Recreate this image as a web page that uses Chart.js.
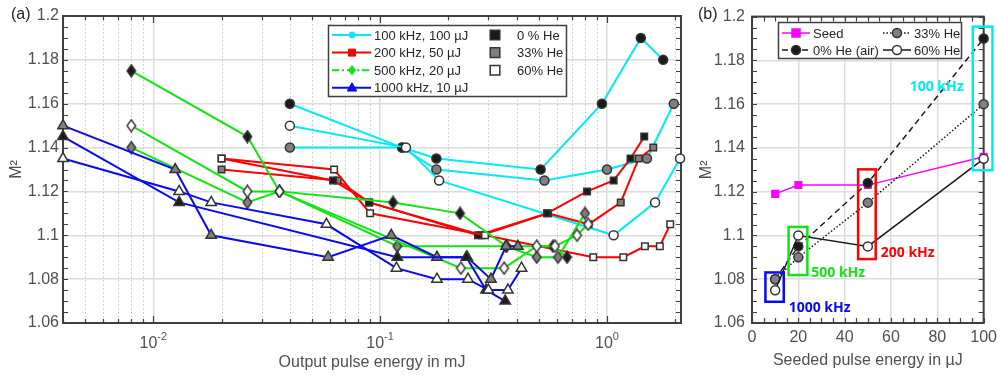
<!DOCTYPE html>
<html>
<head>
<meta charset="utf-8">
<title>M² vs pulse energy</title>
<script src="https://cdn.jsdelivr.net/npm/chart.js@4.4.1/dist/chart.umd.min.js"></script>
<style>
  html, body { margin: 0; padding: 0; background: #fff; overflow: hidden; }
  #wrap { position: relative; width: 998px; height: 375px; }
  #wrap canvas { position: absolute; top: 0; }
  .panel { position: absolute; top: 5px; font: 16px "Liberation Sans", Arial, sans-serif; color: #262626; }
</style>
</head>
<body>
<div id="wrap">
  <canvas id="energyChart" width="690" height="375" style="left:0"></canvas>
  <canvas id="seedChart" width="312" height="375" style="left:690px"></canvas>
  <div class="panel" style="left:11px">(a)</div>
  <div class="panel" style="left:698px">(b)</div>
</div>
<script>
const FONT = '"Liberation Sans", Arial, sans-serif';
const AXIS = '#404040', LABEL = '#505050', TEXT = '#262626', GRID = '#dcdcdc';

/* ---------- (a) M² against output pulse energy (mJ) ---------- */
const rateLabels = ['100 kHz, 100 µJ', '200 kHz, 50 µJ', '500 kHz, 20 µJ', '1000 kHz, 10 µJ'];
const heLabels = ['0 % He', '33% He', '60% He'];

// 100 kHz
const e100He0  = [0.04, 0.125, 0.177, 0.51, 0.95, 1.41, 1.77];
const m100He0  = [1.16, 1.14, 1.135, 1.13, 1.16, 1.19, 1.18];
const e100He33 = [0.04, 0.125, 0.177, 0.53, 1.0, 1.5, 1.97];
const m100He33 = [1.14, 1.14, 1.13, 1.125, 1.13, 1.135, 1.16];
const e100He60 = [0.04, 0.13, 0.182, 1.07, 1.63, 2.1];
const m100He60 = [1.15, 1.14, 1.125, 1.10, 1.115, 1.135];
// 200 kHz
const e200He0  = [0.02, 0.062, 0.0895, 0.27, 0.544, 0.817, 1.07, 1.27, 1.46];
const m200He0  = [1.135, 1.125, 1.115, 1.10, 1.11, 1.12, 1.125, 1.135, 1.145];
const e200He33 = [0.02, 0.065, 0.0895, 0.28, 0.55, 0.83, 1.15, 1.38, 1.6];
const m200He33 = [1.13, 1.125, 1.115, 1.10, 1.11, 1.105, 1.115, 1.135, 1.14];
const e200He60 = [0.02, 0.0627, 0.0903, 0.29, 0.87, 1.18, 1.47, 1.71, 1.90];
const m200He60 = [1.135, 1.13, 1.11, 1.10, 1.09, 1.09, 1.095, 1.095, 1.105];
// 500 kHz
const e500He0  = [0.008, 0.026, 0.036, 0.114, 0.225, 0.36, 0.578, 0.667];
const m500He0  = [1.175, 1.145, 1.12, 1.115, 1.11, 1.095, 1.095, 1.09];
const e500He33 = [0.008, 0.026, 0.036, 0.119, 0.36, 0.49, 0.608, 0.80];
const m500He33 = [1.14, 1.115, 1.12, 1.095, 1.095, 1.09, 1.09, 1.11];
const e500He60 = [0.008, 0.026, 0.036, 0.227, 0.352, 0.49, 0.59, 0.738, 0.826];
const m500He60 = [1.15, 1.12, 1.12, 1.085, 1.085, 1.095, 1.095, 1.10, 1.105];
// 1000 kHz
const e1000He0  = [0.004, 0.013, 0.119, 0.24, 0.293, 0.356];
const m1000He0  = [1.145, 1.115, 1.09, 1.09, 1.075, 1.07];
const e1000He33 = [0.004, 0.0125, 0.018, 0.059, 0.112, 0.178, 0.242, 0.308, 0.359, 0.405];
const m1000He33 = [1.15, 1.13, 1.10, 1.09, 1.10, 1.09, 1.09, 1.08, 1.095, 1.095];
const e1000He60 = [0.004, 0.013, 0.018, 0.058, 0.118, 0.178, 0.244, 0.30, 0.366, 0.42];
const m1000He60 = [1.135, 1.12, 1.115, 1.105, 1.085, 1.08, 1.08, 1.075, 1.075, 1.085];

const decades = [0.01, 0.1, 1];

/* ---------- (b) M² against seeded pulse energy (µJ) ---------- */
const seedEnergy = [10, 20, 50, 100];
const seedM2 = [1.119, 1.123, 1.123, 1.136];
const airM2  = [1.08, 1.095, 1.124, 1.19];
const he33M2 = [1.08, 1.09, 1.115, 1.16];
const he60M2 = [1.075, 1.10, 1.095, 1.135];
const seriesLabelsB = ['Seed', '0% He (air)', '33% He', '60% He'];
const bandLabels = ['1000 kHz', '500 kHz', '200 kHz', '100 kHz'];

// styling
const rateColors = ['#00ecf2', '#ff0000', '#12e412', '#0a0af0'];
const rateShapes = ['circle', 'rect', 'diamond', 'triangle'];
const rateRadius = [4.5, 4.6, 5, 6];
const heFills = ['#1a1a1a', '#808080', '#ffffff'];
const heRank = [1, 2, 0];       // 60% He drawn on top
const rateRank = [3, 2, 1, 0];  // blue on top

function diamondImg(fill) {
  const c = document.createElement('canvas');
  c.width = 11; c.height = 14;
  const g = c.getContext('2d');
  g.beginPath();
  g.moveTo(5.5, 1); g.lineTo(9.8, 7); g.lineTo(5.5, 13); g.lineTo(1.2, 7); g.closePath();
  g.fillStyle = fill; g.fill();
  g.lineWidth = 1.4; g.strokeStyle = '#333'; g.stroke();
  return c;
}

function drawMark(ctx, shape, x, y, r, fill, stroke, lw) {
  ctx.beginPath();
  if (shape === 'circle') ctx.arc(x, y, r, 0, 2 * Math.PI);
  else if (shape === 'rect') ctx.rect(x - r, y - r, 2 * r, 2 * r);
  else if (shape === 'diamond') {
    ctx.moveTo(x, y - r * 1.3); ctx.lineTo(x + r, y); ctx.lineTo(x, y + r * 1.3); ctx.lineTo(x - r, y); ctx.closePath();
  } else if (shape === 'triangle') {
    ctx.moveTo(x, y - r); ctx.lineTo(x + r * 0.95, y + r * 0.65); ctx.lineTo(x - r * 0.95, y + r * 0.65); ctx.closePath();
  }
  ctx.fillStyle = fill; ctx.fill();
  if (lw) { ctx.lineWidth = lw; ctx.strokeStyle = stroke; ctx.stroke(); }
}

// axes box with inward ticks on all four sides
function boxAndTicks(chart, xTicks, yTicks) {
  const { ctx, chartArea: a, scales: { x, y } } = chart;
  ctx.save();
  ctx.strokeStyle = AXIS; ctx.lineWidth = 1.2;
  ctx.beginPath();
  xTicks.forEach(([v, len]) => {
    const px = Math.round(x.getPixelForValue(v)) + 0.5;
    ctx.moveTo(px, a.bottom); ctx.lineTo(px, a.bottom - len);
    ctx.moveTo(px, a.top); ctx.lineTo(px, a.top + len);
  });
  yTicks.forEach(([v, len]) => {
    const py = Math.round(y.getPixelForValue(v)) + 0.5;
    ctx.moveTo(a.left, py); ctx.lineTo(a.left + len, py);
    ctx.moveTo(a.right, py); ctx.lineTo(a.right - len, py);
  });
  ctx.stroke();
  ctx.lineWidth = 2;
  ctx.strokeRect(a.left, a.top, a.right - a.left, a.bottom - a.top);
  ctx.restore();
}

const yMinor = [];
for (let i = 0; i <= 28; i++) yMinor.push([+(1.06 + i * 0.005).toFixed(3), 5]);

/* ---------- chart (a) ---------- */
const seriesA = [
  [e100He0, m100He0, 0, 0], [e100He33, m100He33, 0, 1], [e100He60, m100He60, 0, 2],
  [e200He0, m200He0, 1, 0], [e200He33, m200He33, 1, 1], [e200He60, m200He60, 1, 2],
  [e500He0, m500He0, 2, 0], [e500He33, m500He33, 2, 1], [e500He60, m500He60, 2, 2],
  [e1000He0, m1000He0, 3, 0], [e1000He33, m1000He33, 3, 1], [e1000He60, m1000He60, 3, 2]
];

const datasetsA = seriesA.map(([xs, ys, r, h]) => ({
  data: xs.map((x, i) => ({ x, y: ys[i] })),
  showLine: true,
  borderColor: rateColors[r],
  borderWidth: 2,
  pointStyle: rateShapes[r] === 'diamond' ? diamondImg(heFills[h]) : rateShapes[r],
  pointRadius: rateRadius[r],
  pointBorderWidth: 1.5,
  pointBorderColor: '#333',
  pointBackgroundColor: heFills[h],
  order: rateRank[r] * 3 + heRank[h],
  clip: false
}));

const logTicks = [];
for (let p = -3; p <= 0; p++) {
  for (let k = 1; k <= 9; k++) {
    const v = +(k * Math.pow(10, p)).toPrecision(2);
    if (v >= 0.004 && v <= 2.12) logTicks.push([v, k === 1 ? 7 : 4]);
  }
}

const frameA = {
  id: 'frameA',
  beforeDatasetsDraw(chart) {
    const { ctx, chartArea: a, scales: { x } } = chart;
    ctx.save();
    ctx.strokeStyle = '#c4c4c4'; ctx.lineWidth = 1; ctx.setLineDash([1.5, 2.5]);
    ctx.beginPath();
    logTicks.filter(t => t[1] === 4).forEach(([v]) => {
      const px = Math.round(x.getPixelForValue(v)) + 0.5;
      ctx.moveTo(px, a.top); ctx.lineTo(px, a.bottom);
    });
    ctx.stroke();
    ctx.restore();
    boxAndTicks(chart, logTicks, yMinor);
  },
  afterDatasetsDraw(chart) {
    const { ctx, scales: { x } } = chart;
    ctx.save();
    // decade labels 10^n
    ctx.fillStyle = LABEL; ctx.textAlign = 'left'; ctx.textBaseline = 'alphabetic';
    decades.forEach(v => {
      const px = x.getPixelForValue(v);
      const exp = String(Math.round(Math.log10(v)));
      ctx.font = '16px ' + FONT; const w1 = ctx.measureText('10').width;
      ctx.font = '11px ' + FONT; const w2 = ctx.measureText(exp).width;
      const left = px - (w1 + w2) / 2;
      ctx.font = '16px ' + FONT; ctx.fillText('10', left, 348);
      ctx.font = '11px ' + FONT; ctx.fillText(exp, left + w1, 340);
    });

    // legend
    ctx.fillStyle = '#fff'; ctx.fillRect(328, 25, 239, 72);
    ctx.strokeStyle = AXIS; ctx.lineWidth = 1.5; ctx.strokeRect(328.5, 25.5, 238, 71);
    ctx.font = '13px ' + FONT; ctx.textBaseline = 'middle';
    const legR = [3, 3.5, 3.5, 5];
    rateLabels.forEach((lab, i) => {
      const yy = 35 + i * 17.6;
      ctx.strokeStyle = rateColors[i]; ctx.lineWidth = 2;
      ctx.setLineDash(i === 2 ? [7, 3, 2, 3] : []);
      ctx.beginPath(); ctx.moveTo(332, yy); ctx.lineTo(371, yy); ctx.stroke();
      ctx.setLineDash([]);
      drawMark(ctx, rateShapes[i], 352, yy, legR[i], rateColors[i], rateColors[i], 1);
      ctx.fillStyle = TEXT; ctx.fillText(lab, 374, yy + 1);
    });
    heLabels.forEach((lab, i) => {
      const yy = 35 + i * 17.6;
      drawMark(ctx, 'rect', 495, yy, 4.8, heFills[i], '#333', 1.5);
      ctx.fillStyle = TEXT; ctx.fillText(lab, 517, yy + 1);
    });
    ctx.restore();
  }
};

new Chart(document.getElementById('energyChart'), {
  type: 'scatter',
  data: { datasets: datasetsA },
  options: {
    responsive: false, animation: false, events: [],
    layout: { padding: { left: 0, top: 16, right: 9, bottom: 0 } },
    plugins: { legend: { display: false }, tooltip: { enabled: false } },
    scales: {
      x: {
        type: 'logarithmic', min: 0.004, max: 2.12,
        afterBuildTicks: axis => { axis.ticks = decades.map(value => ({ value })); },
        afterFit: axis => { axis.height = 52; },
        grid: { color: GRID, lineWidth: 1.5, drawTicks: false },
        border: { display: false },
        ticks: { display: false },
        title: { display: true, text: 'Output pulse energy in mJ', color: LABEL,
                 font: { family: FONT, size: 16 }, padding: { top: 0, bottom: 3 } }
      },
      y: {
        min: 1.06, max: 1.2,
        afterFit: axis => { axis.width = 63; },
        grid: { color: GRID, lineWidth: 1.5, drawTicks: false },
        border: { display: false },
        ticks: { stepSize: 0.02, padding: 4, color: LABEL, font: { family: FONT, size: 16 },
                 callback: v => String(+v.toFixed(2)) },
        title: { display: true, text: 'M²', color: LABEL,
                 font: { family: FONT, size: 16 }, padding: { top: 7, bottom: 0 } }
      }
    }
  },
  plugins: [frameA]
});

/* ---------- chart (b) ---------- */
const BLACK = '#1a1a1a', MAGENTA = '#ff00ff';
const bandColors = ['#0a0af0', '#12e412', '#ff0000', '#00ecf2'];
// frames around each repetition-rate group, in axis units: [x0, x1, y0, y1]
const bandBoxes = [[5.8, 13.7, 1.0697, 1.0831], [15.8, 23.9, 1.0819, 1.1039], [45.8, 53.4, 1.0892, 1.1302], [95.3, 103.8, 1.1298, 1.1954]];
const bandTextPos = [[29.2, 1.0668], [37.2, 1.0828], [67.2, 1.0919], [79.7, 1.1676]];

const xy = ys => seedEnergy.map((x, i) => ({ x, y: ys[i] }));
const datasetsB = [
  { data: xy(seedM2), borderColor: MAGENTA, pointStyle: 'rect', pointRadius: 4.6,
    pointBackgroundColor: MAGENTA, pointBorderColor: MAGENTA, order: 3 },
  { data: xy(airM2), borderColor: BLACK, borderDash: [6, 4], pointStyle: 'circle', pointRadius: 4.5,
    pointBackgroundColor: heFills[0], pointBorderColor: '#333', order: 2 },
  { data: xy(he33M2), borderColor: BLACK, borderDash: [1.5, 2], pointStyle: 'circle', pointRadius: 4.5,
    pointBackgroundColor: heFills[1], pointBorderColor: '#333', order: 1 },
  { data: xy(he60M2), borderColor: BLACK, pointStyle: 'circle', pointRadius: 4.5,
    pointBackgroundColor: heFills[2], pointBorderColor: '#333', order: 0 }
].map(d => Object.assign({ showLine: true, borderWidth: 1.5, pointBorderWidth: 1.5, clip: false }, d));

const linTicks = [];
for (let v = 0; v <= 100; v += 5) linTicks.push([v, 5]);

const frameB = {
  id: 'frameB',
  beforeDatasetsDraw(chart) { boxAndTicks(chart, linTicks, yMinor); },
  afterDatasetsDraw(chart) {
    const { ctx, scales: { x, y } } = chart;
    ctx.save();
    // repetition-rate frames and tags
    ctx.lineWidth = 2.5;
    bandBoxes.forEach(([x0, x1, y0, y1], i) => {
      const l = x.getPixelForValue(x0), r = x.getPixelForValue(x1);
      const t = y.getPixelForValue(y1), b = y.getPixelForValue(y0);
      ctx.strokeStyle = bandColors[i];
      ctx.strokeRect(l, t, r - l, b - t);
    });
    ctx.font = 'bold 14px "Open Sans", ' + FONT;
    ctx.textAlign = 'center'; ctx.textBaseline = 'middle';
    bandTextPos.forEach(([vx, vy], i) => {
      ctx.fillStyle = bandColors[i];
      ctx.fillText(bandLabels[i], x.getPixelForValue(vx), y.getPixelForValue(vy));
    });

    // legend
    ctx.fillStyle = '#fff'; ctx.fillRect(88, 22, 184, 37);
    ctx.strokeStyle = AXIS; ctx.lineWidth = 1.5; ctx.strokeRect(88.5, 22.5, 183, 36);
    ctx.font = '13px ' + FONT; ctx.textAlign = 'left';
    const slots = [[92, 33], [92, 50], [193, 33], [193, 50]];
    const marks = [['rect', MAGENTA, MAGENTA, 4], ['circle', heFills[0], '#333', 4.5],
                   ['circle', heFills[1], '#333', 4.5], ['circle', heFills[2], '#333', 4.5]];
    const dashes = [[], [6, 4], [1.5, 2], []];
    slots.forEach(([lx, ly], i) => {
      ctx.strokeStyle = i === 0 ? MAGENTA : BLACK; ctx.lineWidth = 1.5;
      ctx.setLineDash(dashes[i]);
      ctx.beginPath(); ctx.moveTo(lx, ly); ctx.lineTo(lx + 28, ly); ctx.stroke();
      ctx.setLineDash([]);
      drawMark(ctx, marks[i][0], lx + 14, ly, marks[i][3], marks[i][1], marks[i][2], 1.5);
      ctx.fillStyle = TEXT; ctx.fillText(seriesLabelsB[i], lx + 31, ly + 1);
    });
    ctx.restore();
  }
};

new Chart(document.getElementById('seedChart'), {
  type: 'scatter',
  data: { datasets: datasetsB },
  options: {
    responsive: false, animation: false, events: [],
    layout: { padding: { left: 0, top: 16, right: 14, bottom: 0 } },
    plugins: { legend: { display: false }, tooltip: { enabled: false } },
    scales: {
      x: {
        min: 0, max: 100,
        afterFit: axis => { axis.height = 52; },
        grid: { color: GRID, lineWidth: 1.5, drawTicks: false },
        border: { display: false },
        ticks: { stepSize: 20, padding: 5, maxRotation: 0, color: LABEL, font: { family: FONT, size: 16 } },
        title: { display: true, text: 'Seeded pulse energy in µJ', color: LABEL,
                 font: { family: FONT, size: 16 }, padding: { top: 0, bottom: 5 } }
      },
      y: {
        min: 1.06, max: 1.2,
        afterFit: axis => { axis.width = 62; },
        grid: { color: GRID, lineWidth: 1.5, drawTicks: false },
        border: { display: false },
        ticks: { stepSize: 0.02, padding: 7, color: LABEL, font: { family: FONT, size: 16 },
                 callback: v => String(+v.toFixed(2)) },
        title: { display: true, text: 'M²', color: LABEL,
                 font: { family: FONT, size: 16 }, padding: { top: 7, bottom: 0 } }
      }
    }
  },
  plugins: [frameB]
});
</script>
</body>
</html>
